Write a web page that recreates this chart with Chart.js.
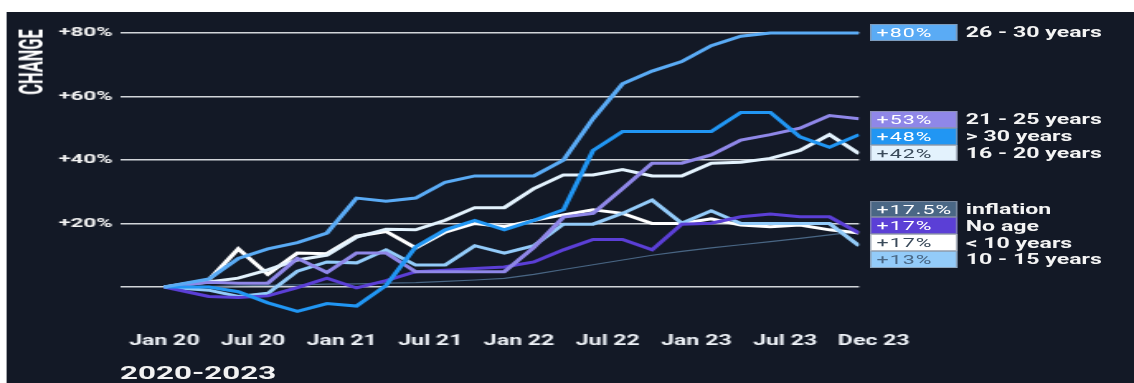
<!DOCTYPE html>
<html>
<head>
<meta charset="utf-8">
<script src="https://cdn.jsdelivr.net/npm/chart.js@4.4.1/dist/chart.umd.min.js"></script>
<style>
  html, body { margin: 0; padding: 0; background: #fff; overflow: hidden; }
  #stage { position: absolute; left: 0; top: 0; width: 687px; height: 383px; transform: scaleX(1.6507); transform-origin: 0 0; font-family: Roboto, sans-serif; }
  #bg { position: absolute; left: 3.6px; top: 12px; right: 0; bottom: 0; background: #131926; }
  #chart { position: absolute; left: 0; top: 0; }
  .axis-title { position: absolute; left: 18.5px; top: 61.5px; color: #fff; font-weight: 700; font-size: 20px; line-height: 1; white-space: nowrap; transform: translate(-50%, -50%) rotate(-90deg) scaleX(0.82); }
  .period { position: absolute; left: 72.7px; top: 361px; font-size: 19px; font-weight: 700; color: #f2f2f2; }
  .group { position: absolute; left: 527px; }
  .row { display: flex; align-items: center; height: 16.8px; }
  .badge { width: 52.7px; height: 100%; box-sizing: border-box; padding-left: 3px; font-size: 13px; line-height: 15px; letter-spacing: .6px; border: 1px solid rgba(140,150,165,.7); }
  .name { margin-left: 5.4px; font-size: 14px; font-weight: 700; color: #f4f4f4; white-space: nowrap; }
</style>
</head>
<body>
<div id="stage">
  <div id="bg"></div>
  <canvas id="chart" width="687" height="383"></canvas>
  <div class="axis-title">CHANGE</div>
  <div class="period">2020-2023</div>
  <div id="legend"></div>
</div>
<script>
// months since Jan 2020 for each reading
const monthIdx = [0, 3, 5, 7, 9, 11, 13, 15, 17, 19, 21, 23, 25, 27, 29, 31, 33, 35, 37, 39, 41, 43, 45, 47];

const age26to30 = [0, 2.5, 9, 12, 14, 17, 28, 27, 28, 33, 35, 35, 35, 40, 53, 64, 68, 71, 76, 79, 80, 80, 80, 80];
const age21to25 = [0, 1.5, 1.2, 1.2, 9, 4.6, 10.7, 10.7, 4.8, 4.8, 4.8, 4.8, 12.5, 22, 23.2, 31, 39, 39, 41.6, 46.3, 48, 50, 54, 53];
const ageOver30 = [0, 0, -1.5, -5, -7.7, -5.2, -6, 0.5, 12.6, 18, 21, 18, 21, 24.3, 43, 49, 49, 49, 49, 55, 55, 47.3, 44, 48];
const age16to20 = [0, 1.6, 2.8, 5.4, 8.5, 10, 15.7, 18.2, 18, 21, 25, 25, 31, 35.3, 35.3, 37, 35, 35, 39, 39.3, 40.5, 43, 48, 42];
const inflation = [0, 0.2, 0.4, 0.5, 0.7, 0.9, 1.0, 1.2, 1.4, 1.8, 2.2, 2.7, 4, 5.5, 7, 8.5, 10, 11.2, 12.3, 13.3, 14.3, 15.3, 16.4, 17.5];
const noAge = [0, -3, -3.3, -2.8, -0.2, 2.8, -0.3, 2, 4.8, 5.3, 5.8, 6.3, 7.9, 11.7, 15, 15, 11.7, 19.8, 20.1, 22.1, 23, 22.1, 22.1, 17];
const under10 = [0, 2.2, 12, 4, 10.7, 10.5, 16, 17.5, 12.3, 17.3, 20, 19, 21, 22.7, 24.3, 23.2, 20, 20, 21.5, 19.5, 19, 19.5, 18, 17];
const age10to15 = [0, -1, -3, -2, 5, 7.9, 7.6, 11.7, 6.9, 6.9, 13, 10.7, 13, 19.8, 19.8, 23.2, 27.4, 20.1, 24, 20, 20, 20, 20, 13];

const seriesNames = ["26 - 30 years", "21 - 25 years", "> 30 years", "16 - 20 years", "inflation", "No age", "< 10 years", "10 - 15 years"];
const seriesValues = [age26to30, age21to25, ageOver30, age16to20, inflation, noAge, under10, age10to15];

const tickMonths = [0, 6, 12, 18, 24, 30, 36, 42, 48];
const tickLabels = ["Jan 20", "Jul 20", "Jan 21", "Jul 21", "Jan 22", "Jul 22", "Jan 23", "Jul 23", "Dec 23"];
const yTicks = [0, 20, 40, 60, 80];

const lineColors = ["#5aabf5", "#8f87e8", "#2196f3", "#e3f2fd", "#4a6785", "#5b3fd6", "#ffffff", "#93cbf9"];
const badgeInk = ["#fff", "#fff", "#fff", "#3a4a5a", "#fff", "#fff", "#3a4a5a", "#4a6785"];
const drawOrder = [0, 2, 1, 3, 7, 4, 6, 5];

// legend blocks beside the line ends
const legendGroups = [[0], [1, 2, 3], [4, 5, 6, 7]];
const groupTops = [24, 111, 200.7];

const legend = document.getElementById("legend");
legendGroups.forEach((members, g) => {
  const box = document.createElement("div");
  box.className = "group";
  box.style.top = groupTops[g] + "px";
  members.forEach(i => {
    const vals = seriesValues[i];
    const row = document.createElement("div");
    row.className = "row";
    row.innerHTML = `<div class="badge" style="background:${lineColors[i]};color:${badgeInk[i]}">+${vals[vals.length - 1]}%</div><div class="name"></div>`;
    row.querySelector(".name").textContent = seriesNames[i];
    box.appendChild(row);
  });
  legend.appendChild(box);
});

const tickFont = { family: "Roboto", weight: "bold", size: 14 };

new Chart(document.getElementById("chart").getContext("2d"), {
  type: "line",
  data: {
    datasets: seriesValues.map((vals, i) => ({
      label: seriesNames[i],
      data: vals.map((v, k) => ({ x: monthIdx[k], y: v })),
      borderColor: lineColors[i],
      borderWidth: i === 4 ? 1.2 : 3,
      pointRadius: 0,
      tension: 0,
      fill: false,
      order: drawOrder[i]
    }))
  },
  options: {
    responsive: false,
    animation: false,
    layout: { padding: { top: 26.65, right: 166.6, left: 0, bottom: 0 } },
    plugins: { legend: { display: false }, tooltip: { enabled: false } },
    scales: {
      x: {
        type: "linear",
        min: -3,
        max: 47,
        grid: { display: false },
        border: { display: false },
        afterBuildTicks: s => { s.ticks = tickMonths.map(v => ({ value: v })); },
        afterFit: s => { s.height = 64.25; },
        ticks: {
          autoSkip: false,
          maxRotation: 0,
          padding: 6,
          color: "#eef2f7",
          font: tickFont,
          callback: v => tickLabels[tickMonths.indexOf(v)]
        }
      },
      y: {
        min: -10,
        max: 82,
        afterBuildTicks: s => { s.ticks = yTicks.map(v => ({ value: v })); },
        afterFit: s => { s.width = 72.7; },
        grid: { color: "#d2d5d9", lineWidth: 1.5, drawTicks: false },
        border: { display: false },
        ticks: {
          padding: 4.4,
          color: "#f2f2f2",
          font: { family: "Roboto", weight: "bold", size: 13.5 },
          callback: v => v === 0 ? "" : "+" + v + "%"
        }
      }
    }
  }
});
</script>
</body>
</html>
